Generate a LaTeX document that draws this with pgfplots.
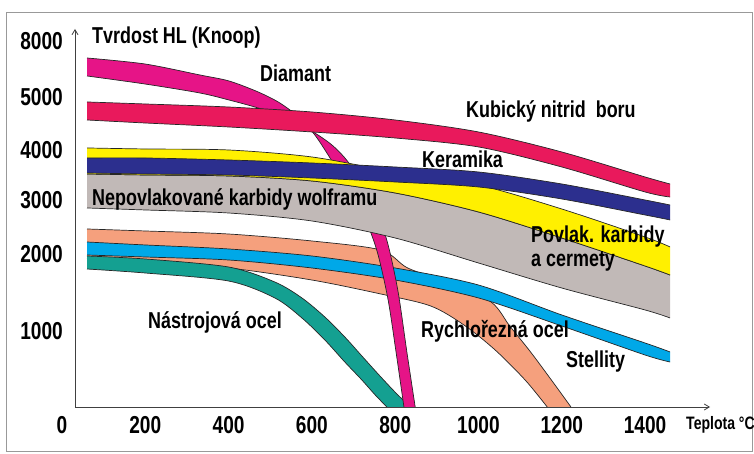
\documentclass[border=0pt]{standalone}
\usepackage{fontspec}
\setmainfont{Liberation Sans}[FakeStretch=0.78, BoldFont={* Bold}]
\usepackage{pgfplots}
\pgfplotsset{compat=1.18}
\usepackage{pgfplotstable}
\usepgfplotslibrary{fillbetween}
\usetikzlibrary{arrows.meta}

\definecolor{cDia}{RGB}{230,20,135}
\definecolor{cKNB}{RGB}{233,25,92}
\definecolor{cKer}{RGB}{44,47,142}
\definecolor{cYel}{RGB}{255,240,0}
\definecolor{cGra}{RGB}{193,185,183}
\definecolor{cSte}{RGB}{0,168,232}
\definecolor{cOra}{RGB}{245,160,125}
\definecolor{cTea}{RGB}{20,160,145}

% hardness (Knoop) vs temperature (deg C)
\pgfplotstableread{
T hi lo
60 4906 4566
200 4868 4509
400 4811 4434
600 4717 4340
800 4566 4226
1000 4340 4057
1200 3960 3660
1400 3460 3160
1460 3320 3060
}\knb
\pgfplotstableread{
T hi lo
60 3840 3540
200 3840 3520
400 3800 3500
600 3740 3440
800 3660 3360
1000 3560 3260
1200 3320 3020
1400 3000 2722
1460 2907 2630
}\ker
\pgfplotstableread{
T hi lo
60 4038 3520
200 4019 3500
400 4000 3480
600 3860 3380
800 3560 3140
1000 3300 2778
1200 2833 2296
1400 2315 1844
1460 2130 1727
}\yel
\pgfplotstableread{
T hi lo
60 3520 2852
200 3500 2815
400 3480 2759
600 3380 2611
800 3140 2296
1000 2778 1883
1200 2296 1558
1400 1844 1273
1460 1727 1169
}\gra
\pgfplotstableread{
T hi lo
60 2222 1987
200 2167 1961
400 2093 1922
600 1974 1818
800 1818 1662
1000 1597 1429
1200 1208 1065
1400 842 684
1460 724 592
}\ste
\pgfplotstableread{
T v
60 2463
200 2426
400 2370
600 2241
765 2074
830 1818
930 1623
1030 1377
1075 1065
1125 724
1175 355
1222 0
}\oraT
\pgfplotstableread{
T v
60 1948
200 1896
400 1818
600 1662
765 1481
885 1325
965 1078
1040 750
1112 355
1165 0
}\oraB
\pgfplotstableread{
T v
60 1974
200 1935
400 1831
511 1636
576 1429
631 1182
679 921
720 671
759 434
797 211
836 0
}\teaT
\pgfplotstableread{
T v
60 1805
200 1753
400 1649
511 1429
576 1169
631 882
679 592
720 355
752 158
780 0
}\teaB
\pgfplotstableread{
T v
60 7089
199 6768
331 6179
401 5857
471 5268
523 4887
571 4604
607 4283
639 3900
672 3440
706 2944
735 2519
759 1987
783 1403
802 724
821 0
}\diaT
\pgfplotstableread{
T v
60 6125
199 5696
331 5214
401 4943
471 4792
547 4585
607 4321
651 4075
687 3760
728 3240
759 2722
783 2167
807 1506
828 724
848 0
}\diaB

\newcommand{\bandtab}[3]{%
  \addplot[name path=#1T, draw=none, smooth] table[x=T,y=hi]{#2};
  \addplot[name path=#1B, draw=none, smooth] table[x=T,y=lo]{#2};
  \addplot[fill=#3, draw=none] fill between[of=#1T and #1B];
  \addplot[edge] table[x=T,y=hi]{#2};
  \addplot[edge] table[x=T,y=lo]{#2};
}
\newcommand{\bandtwo}[4]{%
  \addplot[name path=#1T, draw=none, smooth] table[x=T,y=v]{#2};
  \addplot[name path=#1B, draw=none, smooth] table[x=T,y=v]{#3};
  \addplot[fill=#4, draw=none] fill between[of=#1T and #1B];
  \addplot[edge] table[x=T,y=v]{#2};
  \addplot[edge] table[x=T,y=v]{#3};
}

\begin{document}
\begin{tikzpicture}
\begin{axis}[
  set layers,
  at={(0,0)}, anchor=south west,
  scale only axis, width=746pt, height=439pt,
  xmin=-134.5, xmax=1656.7,
  ymin=-579, ymax=9554,
  y coord trafo/.code={\pgfmathparse{ifthenelse(#1<1000, 0.076*#1, ifthenelse(#1<2000, 76+0.077*(#1-1000), ifthenelse(#1<3000, 153+0.054*(#1-2000), ifthenelse(#1<4000, 207+0.05*(#1-3000), ifthenelse(#1<5000, 257+0.053*(#1-4000), 310+0.0186667*(#1-5000))))))}},
  axis line style={draw=black!40, line width=0.8pt},
  major tick length=0pt,
  tick style={draw=none},
  xtick={0,200,400,600,800,1000,1200,1400},
  xticklabels={0,200,400,600,800,1000,1200,1400},
  ytick={1000,2000,3000,4000,5000,8000},
  yticklabels={1000,2000,3000,4000,5000,8000},
  tick label style={font=\fontsize{24.5}{30}\selectfont\bfseries},
  xticklabel style={anchor=center, yshift=26pt},
  yticklabel style={anchor=east, inner sep=0pt, xshift=57pt},
  edge/.style={black!85, line width=0.7pt, smooth, on layer=pre main},
]
\bandtwo{ora}{\oraT}{\oraB}{cOra}
\bandtab{ste}{\ste}{cSte}
\bandtwo{tea}{\teaT}{\teaB}{cTea}
\bandtwo{dia}{\diaT}{\diaB}{cDia}
\bandtab{gra}{\gra}{cGra}
\bandtab{yel}{\yel}{cYel}
\bandtab{ker}{\ker}{cKer}
\bandtab{knb}{\knb}{cKNB}
\end{axis}
\begin{scope}[shift={(-6pt,451pt)}, x=1pt, y=-1pt]
  \draw[black!75, line width=0.8pt, -{Straight Barb[length=5pt,width=6pt]}] (75,407) -- (75,29);
  \draw[black!75, line width=0.8pt, -{Straight Barb[length=5pt,width=6pt]}] (75,407) -- (710,407);
  \tikzset{lab/.style={anchor=west, inner sep=0pt, font=\fontsize{23}{28}\selectfont\bfseries}}
  \node[lab] at (92,38) {Tvrdost HL (Knoop)};
  \node[lab] at (260,73) {Diamant};
  \node[lab] at (466,111) {Kubický nitrid \ boru};
  \node[lab] at (422,159) {Keramika};
  \node[lab] at (92,199) {Nepovlakované karbidy wolframu};
  \node[lab] at (531,237) {Povlak. karbidy};
  \node[lab] at (531,261) {a cermety};
  \node[lab] at (148,322) {Nástrojová ocel};
  \node[lab] at (421,331) {Rychlořezná ocel};
  \node[lab] at (566,362) {Stellity};
  \node[lab, font=\fontsize{18}{21}\selectfont\bfseries] at (686,425) {Teplota °C};
\end{scope}
\pgfresetboundingbox
\useasboundingbox (-6pt,-3pt) rectangle (748pt,451pt);
\end{tikzpicture}
\end{document}
